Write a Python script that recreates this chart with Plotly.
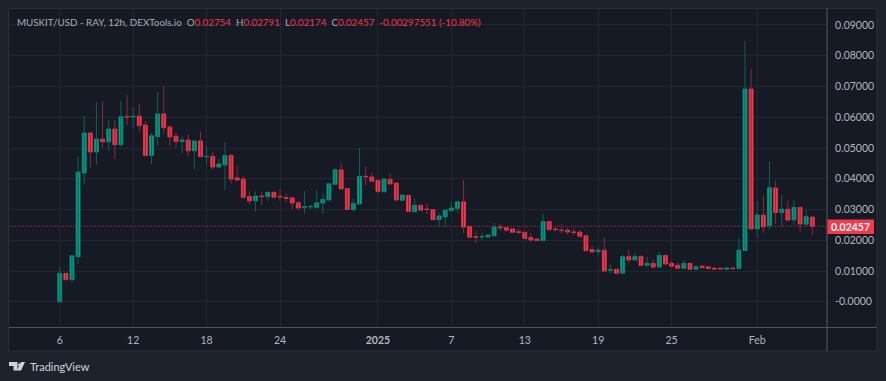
import plotly.graph_objects as go
import pandas as pd

start_time = "2024-12-06 00:00"
open_ = [0.0, .00925, .0072, .01468, .04189, .0549, .0487, .0529, .0520, .0562, .0511, .0602, .0601, .0604, .0575, .0476,
         .0537, .0611, .0568, .0538, .0521, .0526, .0491, .0523, .0472, .0473, .0438, .0445, .0476, .0403, .0399, .0342,
         .0328, .0344, .0342, .0356, .0343, .0339, .0338, .0322, .0307, .0309, .0307, .0321, .0331, .0382, .0429, .0368,
         .0300, .0318, .0408, .0406, .0395, .0358, .0398, .0386, .0330, .0346, .0293, .0314, .0302, .0300, .0267, .0276,
         .0296, .0303, .0325, .0245, .0212, .0211, .0211, .0215, .0243, .0241, .0237, .0228, .0226, .0209, .0204, .0199,
         .0261, .0237, .0233, .0233, .0227, .0227, .0215, .0170, .0163, .0168, .0103, .0106, .0093, .0147, .0136, .0147,
         .0119, .0125, .0113, .0151, .0125, .0119, .0109, .0125, .0106, .0116, .0114, .0109, .0109, .0106, .0110, .0108,
         .0167, .0692, .0237, .0282, .0247, .0370, .0290, .0301, .0266, .0307, .0252, .02754]
high = [.0114, .0095, .0152, .0472, .0604, .0551, .0648, .0652, .0592, .0591, .0652, .0673, .0632, .0643, .0588, .0548,
        .0682, .0701, .0575, .0551, .0537, .0545, .0526, .0553, .0505, .0487, .0464, .0519, .0481, .0442, .0408, .0359,
        .0359, .0357, .0357, .0360, .0364, .0351, .0339, .0328, .0360, .0316, .0364, .0353, .0386, .0435, .0452, .0370,
        .0335, .0500, .0439, .0420, .0396, .0400, .0418, .0387, .0349, .0347, .0336, .0315, .0320, .0301, .0288, .0299,
        .0323, .0325, .0396, .0246, .0230, .0225, .0218, .0256, .0253, .0244, .0238, .0237, .0227, .0223, .0207, .0286,
        .0261, .0245, .0252, .0240, .0239, .0233, .0219, .0181, .0174, .0209, .0122, .0106, .0153, .0168, .0158, .0152,
        .0147, .0139, .0162, .0152, .0134, .0127, .0136, .0126, .0116, .0119, .0116, .0112, .0111, .0112, .0112, .0206,
        .0849, .0756, .0329, .0347, .0457, .0393, .0347, .0329, .0331, .0308, .0299, .02791]
low = [0.0, .0070, .0063, .0123, .0382, .0436, .0446, .0501, .0491, .0465, .0505, .0575, .0566, .0553, .0472, .0448,
       .0507, .0546, .0508, .0502, .0484, .0472, .0431, .0470, .0446, .0429, .0438, .0364, .0384, .0394, .0334, .0316,
       .0294, .0314, .0328, .0336, .0329, .0325, .0300, .0300, .0286, .0302, .0303, .0286, .0330, .0381, .0365, .0299,
       .0292, .0317, .0378, .0391, .0353, .0355, .0382, .0327, .0328, .0293, .0291, .0297, .0286, .0266, .0244, .0244,
       .0295, .0290, .0224, .0205, .0192, .0201, .0205, .0212, .0230, .0228, .0225, .0220, .0204, .0194, .0198, .0197,
       .0228, .0226, .0223, .0219, .0217, .0209, .0165, .0160, .0151, .0099, .0093, .0089, .0092, .0125, .0135, .0116,
       .0114, .0109, .0112, .0122, .0115, .0107, .0107, .0105, .0105, .0110, .0107, .0103, .0104, .0104, .0106, .0107,
       .0166, .0234, .0209, .0225, .0234, .0252, .0244, .0260, .0250, .0228, .0251, .02174]
close = [.00925, .0072, .0150, .04221, .0549, .0487, .0529, .0520, .0562, .0511, .0602, .0601, .0603, .0573, .0476, .0540,
         .0611, .0566, .0536, .0521, .0526, .0491, .0523, .0472, .0473, .0438, .0448, .0476, .0399, .0396, .0340, .0328,
         .0344, .0342, .0356, .0340, .0341, .0336, .0321, .0305, .0309, .0310, .0322, .0333, .0384, .0429, .0367, .0300,
         .0320, .0408, .0407, .0392, .0359, .0399, .0383, .0331, .0347, .0294, .0314, .0298, .0300, .0267, .0279, .0298,
         .0305, .0325, .0243, .0210, .0210, .0212, .0217, .0243, .0241, .0233, .0226, .0226, .0206, .0201, .0199, .0261,
         .0235, .0235, .0232, .0227, .0226, .0213, .0166, .0162, .0168, .0100, .0104, .0093, .0147, .0136, .0147, .0118,
         .0125, .0113, .0151, .0123, .0116, .0109, .0125, .0106, .0114, .0111, .0108, .0107, .0107, .0110, .0108, .0168,
         .0692, .0237, .0282, .0244, .0371, .0290, .0301, .0266, .0307, .0253, .0277, .02457]
last_price = 0.02457

price_ticks = [0.0, .01, .02, .03, .04, .05, .06, .07, .08, .09]
price_labels = ["-0.0000", "0.01000", "0.02000", "0.03000", "0.04000", "0.05000", "0.06000", "0.07000", "0.08000", "0.09000"]
date_ticks = ["2024-12-06", "2024-12-12", "2024-12-18", "2024-12-24", "2025-01-01", "2025-01-07", "2025-01-13",
              "2025-01-19", "2025-01-25", "2025-02-01"]
date_labels = ["6", "12", "18", "24", "<b>2025</b>", "7", "13", "19", "25", "Feb"]

GREEN, RED = "#089981", "#f7374a"
GREEN_DIM, RED_DIM = "#0c6257", "#8a2b3a"
TXT = "#b2b5be"
FONT = "Lato"
L, R, T, B = 9, 827, 9, 327
W, H = 886, 381

def px(x):
    return (x - L) / (R - L)

def py(y):
    return (B - y) / (B - T)

dates = pd.date_range(start_time, periods=len(open_), freq="12h")
body_hi = [max(o, c) for o, c in zip(open_, close)]
body_lo = [min(o, c) for o, c in zip(open_, close)]

def wicks(up):
    xs, ys = [], []
    for d, o, h, l, c in zip(dates, open_, high, low, close):
        if (c >= o) == up:
            xs += [d, d, None]
            ys += [l, h, None]
    return xs, ys

fig = go.Figure()
for up, col in ((True, GREEN_DIM), (False, RED_DIM)):
    xs, ys = wicks(up)
    fig.add_trace(go.Scatter(x=xs, y=ys, mode="lines", line=dict(color=col, width=1), showlegend=False, hoverinfo="skip"))
fig.add_trace(go.Candlestick(
    x=dates, open=open_, high=body_hi, low=body_lo, close=close, showlegend=False,
    increasing=dict(line=dict(color=GREEN, width=0.8), fillcolor=GREEN),
    decreasing=dict(line=dict(color=RED, width=0.8), fillcolor=RED),
))

shapes = [
    dict(type="rect", xref="paper", yref="paper", x0=px(8.5), x1=px(877), y0=py(351), y1=py(8.5), layer="below",
         fillcolor="#161a25", line=dict(color="#2a2e39", width=1)),
    dict(type="line", xref="paper", yref="y", x0=0, x1=1, y0=last_price, y1=last_price, layer="below",
         line=dict(color="#a02f40", width=1, dash="1px,1px")),
    dict(type="line", xref="paper", yref="paper", x0=px(827), x1=px(827), y0=py(351), y1=py(8.5),
         line=dict(color="#50535e", width=1.2)),
    dict(type="line", xref="paper", yref="paper", x0=px(9), x1=px(877), y0=py(327.5), y1=py(327.5),
         line=dict(color="#50535e", width=1.2)),
    dict(type="rect", xref="paper", yref="paper", x0=px(827.5), x1=px(874), y0=py(234), y1=py(219.5),
         fillcolor=RED, line=dict(width=0)),
    # TradingView mark
    dict(type="path", xref="paper", yref="paper", fillcolor="#d1d4dc", line=dict(width=0),
         path=f"M {px(9)} {py(362)} L {px(17.5)} {py(362)} L {px(17.5)} {py(370.5)} L {px(13.5)} {py(370.5)} "
              f"L {px(13.5)} {py(366)} L {px(9)} {py(366)} Z"),
    dict(type="circle", xref="paper", yref="paper", fillcolor="#d1d4dc", line=dict(width=0),
         x0=px(18), x1=px(20.6), y0=py(366), y1=py(363.4)),
    dict(type="path", xref="paper", yref="paper", fillcolor="#d1d4dc", line=dict(width=0),
         path=f"M {px(21)} {py(362)} L {px(25)} {py(362)} L {px(21)} {py(370.5)} L {px(16.8)} {py(370.5)} Z"),
]

r = lambda s: f'<span style="color:#f23645">{s}</span>'
header = ("MUSKIT/USD - RAY, 12h, DEXTools.io&nbsp;&nbsp;O" + r("0.02754") + "&nbsp;&nbsp;H" + r("0.02791")
          + "&nbsp;&nbsp;L" + r("0.02174") + "&nbsp;&nbsp;C" + r("0.02457")
          + "&nbsp;&nbsp;" + r("-0.00297551 (-10.80%)"))
annotations = [
    dict(xref="paper", yref="paper", x=px(14.5), y=py(21.5), xanchor="left", yanchor="middle", showarrow=False,
         text=header, font=dict(family=FONT, size=9.8, color="#a8abb4")),
    dict(xref="paper", yref="paper", x=px(850.5), y=py(226.8), xanchor="center", yanchor="middle", showarrow=False,
         text="<b>0.02457</b>", font=dict(family=FONT, size=10.5, color="#ffffff")),
    dict(xref="paper", yref="paper", x=px(28), y=py(366.5), xanchor="left", yanchor="middle", showarrow=False,
         text="TradingView", font=dict(family=FONT, size=11, color="#d1d4dc")),
]

fig.update_layout(
    width=W, height=H, autosize=False, margin=dict(l=L, r=W - R, t=T, b=H - B, pad=0),
    paper_bgcolor="#1e222d", plot_bgcolor="#161a25", showlegend=False, boxgap=0, boxgroupgap=0.36,
    shapes=shapes, annotations=annotations, font=dict(family=FONT, size=10.5, color=TXT),
    xaxis=dict(type="date", range=["2024-12-01 20:30", "2025-02-06 16:48"], rangeslider=dict(visible=False),
               tickmode="array", tickvals=date_ticks, ticktext=date_labels, showgrid=True, gridcolor="#232732",
               gridwidth=1, zeroline=False, ticks="outside", ticklen=3, tickcolor="rgba(0,0,0,0)",
               tickfont=dict(family=FONT, size=10.5, color=TXT), showline=False),
    yaxis=dict(side="right", range=[-0.00819, 0.0952], tickmode="array", tickvals=price_ticks, ticktext=price_labels,
               showgrid=True, gridcolor="#232732", gridwidth=1, zeroline=False, ticks="outside", ticklen=5,
               tickcolor="rgba(0,0,0,0)", tickfont=dict(family=FONT, size=10.5, color=TXT), showline=False),
)
fig.write_html("out.html", config={"displayModeBar": False},
               post_script="document.body.style.margin='0';document.body.style.background='#1e222d';")
